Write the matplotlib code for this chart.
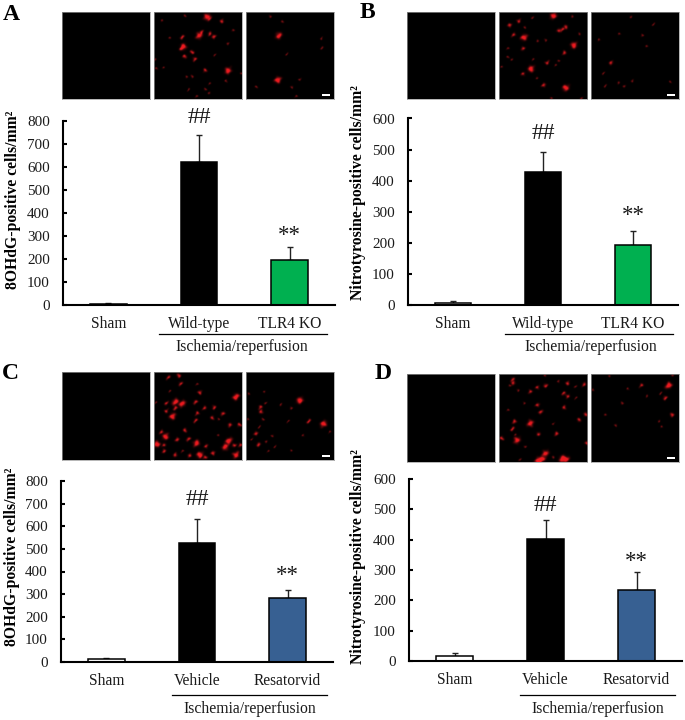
import numpy as np
import matplotlib
matplotlib.use('Agg')
import matplotlib.pyplot as plt

plt.rcParams['font.family'] = ['Liberation Serif', 'DejaVu Serif']

W, H = 685, 720

# Valores
labels_ab = ['Sham', 'Wild-type', 'TLR4 KO']
labels_cd = ['Sham', 'Vehicle', 'Resatorvid']
group_label = 'Ischemia/reperfusion'
ylabel_8ohdg = '8OHdG-positive cells/mm²'
ylabel_nitro = 'Nitrotyrosine-positive cells/mm²'

means_a = [3, 622, 195]
upper_a = [10, 738, 252]
means_b = [5, 428, 193]
upper_b = [14, 492, 238]
means_c = [12, 525, 283]
upper_c = [18, 632, 320]
means_d = [15, 403, 235]
upper_d = [27, 465, 295]

hash_y = [826, 557, 729, 521]
star_y = [313, 296, 393, 336]

green = '#00B050'
blue = '#376092'

# Manchas vermelhas das micrografias: (x %, y %, intensidade 1-3)
spots_a_mid = [(60, 5, 3), (63, 8, 2), (77, 10, 2), (51, 27, 3), (54, 23, 2), (63, 25, 2), (68, 28, 2),
               (32, 29, 2), (33, 40, 3), (31, 41, 2), (43, 46, 2), (35, 51, 2), (46, 54, 2), (84, 36, 1),
               (58, 67, 2), (84, 67, 3), (11, 64, 1), (37, 74, 1), (43, 74, 1), (63, 82, 1), (82, 79, 1),
               (39, 89, 1), (58, 89, 1), (3, 65, 1), (9, 10, 1), (35, 4, 1), (90, 21, 1), (99, 70, 1),
               (69, 49, 1), (18, 30, 1), (1, 55, 1), (63, 93, 1), (48, 97, 1)]
spots_a_right = [(37, 27, 3), (36, 78, 3), (61, 77, 1), (12, 86, 1), (52, 86, 1), (86, 30, 1), (86, 41, 1),
                 (41, 11, 1), (27, 5, 1), (46, 48, 1), (57, 97, 1)]
spots_b_mid = [(61, 4, 3), (22, 10, 2), (12, 15, 2), (28, 29, 3), (16, 26, 2), (71, 20, 2), (75, 17, 2),
               (67, 21, 2), (84, 38, 3), (27, 42, 2), (73, 47, 2), (54, 58, 2), (67, 56, 1), (36, 65, 3),
               (10, 52, 1), (14, 54, 1), (3, 63, 1), (27, 71, 2), (75, 87, 3), (50, 84, 2), (43, 33, 1),
               (52, 32, 1), (29, 17, 1), (82, 5, 1), (90, 25, 1), (38, 54, 1), (63, 61, 1), (10, 42, 1),
               (42, 76, 1), (59, 99, 1), (93, 99, 1), (37, 6, 1)]
spots_b_right = [(23, 58, 2), (14, 70, 1), (63, 39, 1), (32, 25, 1), (47, 79, 1), (38, 85, 1), (31, 81, 1),
                 (71, 14, 1), (45, 5, 1), (90, 80, 1), (9, 32, 1), (58, 27, 1), (16, 85, 1)]
spots_c_mid = [(16, 6, 2), (28, 4, 2), (30, 13, 2), (49, 14, 1), (52, 23, 2), (93, 28, 3), (18, 22, 1),
               (2, 35, 1), (14, 35, 2), (24, 34, 3), (32, 36, 3), (14, 44, 2), (24, 41, 2), (21, 50, 3),
               (47, 34, 2), (68, 40, 2), (57, 41, 2), (49, 47, 2), (78, 47, 2), (66, 52, 2), (47, 55, 2),
               (86, 60, 2), (97, 60, 2), (73, 54, 1), (35, 66, 2), (8, 68, 2), (13, 73, 3), (26, 77, 2),
               (39, 76, 2), (3, 82, 3), (11, 83, 2), (48, 81, 3), (85, 78, 3), (81, 85, 3), (91, 83, 2),
               (11, 90, 2), (24, 94, 2), (40, 95, 2), (52, 94, 3), (59, 84, 2), (67, 92, 2), (73, 72, 1),
               (93, 94, 3), (98, 83, 2), (32, 90, 1), (58, 97, 2)]
spots_c_right = [(61, 32, 3), (88, 59, 3), (71, 56, 2), (40, 37, 1), (17, 45, 2), (16, 40, 2), (3, 25, 1),
                 (22, 35, 1), (19, 54, 1), (2, 54, 1), (11, 70, 2), (6, 76, 1), (14, 82, 2), (23, 79, 1),
                 (30, 72, 1), (33, 85, 1), (51, 41, 1), (21, 22, 1), (51, 89, 1), (95, 68, 1), (48, 56, 1),
                 (15, 62, 1), (25, 90, 1), (65, 72, 1)]
spots_d_mid = [(15, 6, 2), (16, 10, 2), (12, 13, 1), (43, 15, 2), (35, 20, 2), (52, 13, 2), (67, 8, 1),
               (77, 10, 2), (95, 12, 2), (86, 14, 1), (73, 22, 2), (77, 25, 2), (86, 27, 1), (28, 33, 1),
               (43, 35, 2), (73, 38, 2), (47, 43, 2), (21, 18, 1), (10, 41, 1), (35, 56, 3), (17, 54, 2),
               (15, 62, 2), (3, 73, 2), (18, 69, 1), (20, 75, 3), (44, 68, 2), (64, 68, 2), (97, 46, 2),
               (90, 52, 2), (61, 56, 1), (99, 78, 2), (29, 82, 1), (52, 90, 3), (48, 97, 3), (44, 98, 3),
               (75, 97, 3), (71, 96, 3), (61, 94, 1), (23, 97, 1), (52, 1, 1)]
spots_d_right = [(57, 13, 2), (88, 13, 3), (84, 27, 2), (63, 25, 1), (35, 33, 1), (92, 46, 2), (77, 53, 1),
                 (80, 60, 1), (28, 58, 1), (21, 2, 1), (93, 1, 1), (16, 46, 1), (2, 18, 1), (42, 17, 1),
                 (79, 22, 1)]

fig = plt.figure(figsize=(W / 100, H / 100), dpi=100, facecolor='white')


def add_ax(x0, x1, y_top, y_bottom):
    return fig.add_axes([x0 / W, 1 - y_bottom / H, (x1 - x0) / W, (y_bottom - y_top) / H])


def fig_text(x, y, s, **kw):
    fig.text(x / W, 1 - y / H, s, **kw)


# Desenha uma micrografia a partir da lista de manchas
def micrograph(x0, x1, y_top, y_bottom, spots, scale_bar=False):
    ax = add_ax(x0, x1, y_top, y_bottom)
    n = 264
    yy, xx = np.mgrid[0:n, 0:n] * 100.0 / n
    # leve deformação para as manchas não ficarem redondas
    xw = xx + 0.5 * np.sin(yy * 0.9) + 0.3 * np.sin(xx * 0.5 + yy * 0.7)
    yw = yy + 0.5 * np.sin(xx * 0.8) + 0.3 * np.cos(yy * 0.6 - xx * 0.7)
    red = np.zeros((n, n))
    sigma = {1: 0.9, 2: 1.3, 3: 2.0}
    amp = {1: 0.5, 2: 0.85, 3: 1.25}
    for sx, sy, level in spots:
        dx, dy = xw - sx, yw - sy
        u = (dx + dy) / 1.3
        v = (dx - dy) / 1.6
        red += amp[level] * np.exp(-(u ** 2 + v ** 2) / (2 * sigma[level] ** 2))
    rgb = np.zeros((n, n, 3))
    rgb[..., 0] = np.clip(red, 0, 0.93)
    rgb[..., 1] = np.clip(red * 0.12, 0, 0.1)
    rgb[..., 2] = np.clip(red * 0.14, 0, 0.12)
    ax.imshow(rgb, extent=(0, 100, 100, 0), aspect='auto', interpolation='bilinear')
    if scale_bar:
        ax.fill_between([86, 96], 94, 97, color='white', lw=0)
    ax.set_xticks([])
    ax.set_yticks([])
    for s in ax.spines.values():
        s.set_color('#999999')
        s.set_linewidth(0.5)


def bar_panel(box, means, upper, colors, labels, ymax, ylabel, ylabel_x, ylabel_y, h_y, s_y):
    x0, x1, y_top, y_bottom = box
    ax = add_ax(x0, x1, y_top, y_bottom)
    pos = np.arange(3)
    ax.bar(pos, means, width=0.405, color=colors, edgecolor='black', linewidth=1.1, zorder=2)
    err = np.array(upper) - np.array(means)
    ax.errorbar(pos, means, yerr=[np.zeros(3), err], fmt='none', ecolor='#222222',
                elinewidth=1.0, capsize=2.4, capthick=1.0, zorder=1)
    ax.set_xlim(-0.5, 2.5)
    ax.set_ylim(0, ymax)
    ax.set_yticks(np.arange(0, ymax + 1, 100))
    ax.set_xticks(pos)
    ax.set_xticklabels(labels)
    ax.tick_params(axis='x', length=0, pad=8, labelsize=11.2, colors='#1a1a1a')
    ax.tick_params(axis='y', direction='in', length=3.2, width=1.5, pad=9.5, labelsize=10.9, labelcolor='#1a1a1a')
    ax.spines['top'].set_visible(False)
    ax.spines['right'].set_visible(False)
    ax.spines['left'].set_linewidth(1.5)
    ax.spines['bottom'].set_linewidth(1.5)
    ax.patch.set_alpha(0)
    ax.annotate('##', (1, h_y), xytext=(0, -1.5), textcoords='offset points', ha='center', va='center',
                fontsize=17, annotation_clip=False, color='#1a1a1a')
    ax.annotate('**', (2, s_y), xytext=(0, -1.5), textcoords='offset points', ha='center', va='center',
                fontsize=16.5, annotation_clip=False, color='#1a1a1a')
    fig_text(ylabel_x, ylabel_y, ylabel, rotation=90, ha='center', va='center',
             fontsize=11.3, fontweight='bold')
    return ax


def group_marker(x0, x1, y_line, x_text, y_text):
    fig.add_artist(plt.Line2D([x0 / W, x1 / W], [1 - y_line / H] * 2, color='black', lw=0.9))
    fig_text(x_text, y_text, group_label, ha='center', va='center', fontsize=11.3, color='#1a1a1a')


cols_ab = ['white', 'black', green]
cols_cd = ['white', 'black', blue]

# Painel A
micrograph(62, 150, 12, 99, [])
micrograph(154, 242, 12, 99, spots_a_mid)
micrograph(246, 334, 12, 99, spots_a_right, True)
bar_panel((63, 335, 121, 305), means_a, upper_a, cols_ab, labels_ab, 800, ylabel_8ohdg, 13, 200, hash_y[0], star_y[0])
group_marker(159, 327, 334, 242, 347)

# Painel B
micrograph(407, 495, 12, 99, [])
micrograph(499, 587, 12, 99, spots_b_mid)
micrograph(591, 679, 12, 99, spots_b_right, True)
bar_panel((408, 678, 118.5, 305), means_b, upper_b, cols_ab, labels_ab, 600, ylabel_nitro, 358, 193, hash_y[1], star_y[1])
group_marker(505, 673, 334, 591, 347)

# Painel C
micrograph(62, 150, 372, 460, [])
micrograph(154, 242, 372, 460, spots_c_mid)
micrograph(246, 334, 372, 460, spots_c_right, True)
bar_panel((61, 333, 481, 662), means_c, upper_c, cols_cd, labels_cd, 800, ylabel_8ohdg, 12, 557, hash_y[2], star_y[2])
group_marker(172, 327, 695, 250, 709)

# Painel D
micrograph(407, 495, 374, 462, [])
micrograph(499, 587, 374, 462, spots_d_mid)
micrograph(591, 679, 374, 462, spots_d_right, True)
bar_panel((409, 682, 479, 661), means_d, upper_d, cols_cd, labels_cd, 600, ylabel_nitro, 358, 557, hash_y[3], star_y[3])
group_marker(520, 675, 695, 598, 709)

# Letras dos painéis
for letter, lx, ly in [('A', 11, 15), ('B', 367, 13), ('C', 10, 373), ('D', 383, 373)]:
    fig_text(lx, ly, letter, ha='center', va='center', fontsize=17, fontweight='bold')

fig.savefig('out.png', dpi=100)
